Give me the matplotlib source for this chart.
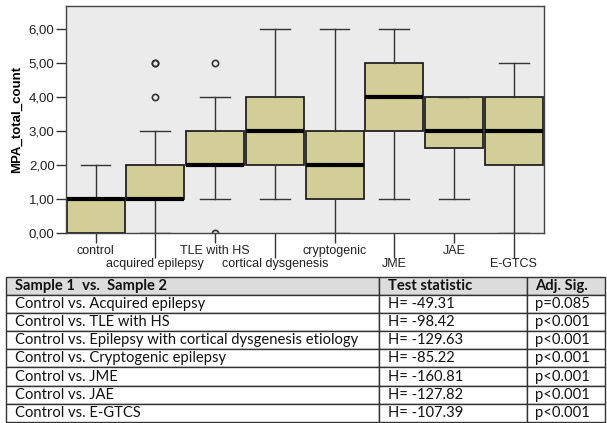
import matplotlib
matplotlib.use("Agg")
import matplotlib.pyplot as plt

# Box summaries
groups = ["control", "acquired epilepsy", "TLE with HS", "cortical dysgenesis",
          "cryptogenic", "JME", "JAE", "E-GTCS"]
q1 = [0, 1, 2, 2, 1, 3, 2.5, 2]
med = [1, 1, 2, 3, 2, 4, 3, 3]
q3 = [1, 2, 3, 4, 3, 5, 4, 4]
whislo = [0, 0, 1, 1, 0, 1, 1, 0]
whishi = [2, 3, 4, 6, 6, 6, 4, 5]
outliers = [[], [4, 5, 5], [5, 0], [], [], [], [], []]
yticks = [0, 1, 2, 3, 4, 5, 6]
ytick_labels = ["0,00", "1,00", "2,00", "3,00", "4,00", "5,00", "6,00"]

# Pairwise comparison table
header = ["Sample 1  vs.  Sample 2", "Test statistic", "Adj. Sig."]
comparisons = ["Control vs. Acquired epilepsy", "Control vs. TLE with HS",
               "Control vs. Epilepsy with cortical dysgenesis etiology",
               "Control vs. Cryptogenic epilepsy", "Control vs. JME",
               "Control vs. JAE", "Control vs. E-GTCS"]
h_stats = ["H= -49.31", "H= -98.42", "H= -129.63", "H= -85.22",
           "H= -160.81", "H= -127.82", "H= -107.39"]
p_values = ["p=0.085", "p<0.001", "p<0.001", "p<0.001",
            "p<0.001", "p<0.001", "p<0.001"]

plt.rcParams["font.family"] = ["Liberation Sans", "DejaVu Sans"]

fig = plt.figure(figsize=(6.07, 4.23), dpi=100)
ax = fig.add_axes([0.1082, 0.4499, 0.7875, 0.5366])
ax.set_facecolor("#EBEBEB")

stats = []
for i, g in enumerate(groups):
    stats.append(dict(label=g, q1=q1[i], med=med[i], q3=q3[i],
                      whislo=whislo[i], whishi=whishi[i], fliers=outliers[i]))

ax.bxp(stats, positions=range(len(groups)), widths=0.97, capwidths=0.5,
       patch_artist=True,
       boxprops=dict(facecolor="#D3CE98", edgecolor="#222222", linewidth=1.3),
       medianprops=dict(color="black", linewidth=3),
       whiskerprops=dict(color="#333333", linewidth=1),
       capprops=dict(color="#333333", linewidth=1),
       flierprops=dict(marker="o", markersize=4.5, markerfacecolor="none",
                       markeredgecolor="#333333", markeredgewidth=1.2))

ax.set_xlim(-0.5, len(groups) - 0.5)
ax.set_ylim(0, 6.69)
ax.set_yticks(yticks)
ax.set_yticklabels(ytick_labels)
ax.set_ylabel("MPA_total_count", fontsize=9.5, fontweight="bold", labelpad=4)

# SPSS staggers category labels on two rows
ax.set_xticks(range(0, len(groups), 2))
ax.set_xticklabels(groups[0::2])
ax.set_xticks(range(1, len(groups), 2), minor=True)
ax.set_xticklabels(groups[1::2], minor=True)
ax.tick_params(axis="x", which="major", length=7.2, width=1, color="#333333",
               labelsize=9, pad=1.5, colors="#222222")
ax.tick_params(axis="x", which="minor", length=18, width=1, color="#333333",
               labelsize=9, pad=0.5, colors="#222222")
ax.tick_params(axis="y", length=7, width=1, color="#333333", labelsize=9.5,
               pad=1, colors="#222222")
for s in ax.spines.values():
    s.set_color("#444444")
    s.set_linewidth(1)

# table
tax = fig.add_axes([6 / 607, 0.003, 599 / 607, 0.342])
tax.axis("off")
rows = [[comparisons[i], h_stats[i], p_values[i]] for i in range(len(comparisons))]
col_w = [373, 147.5, 78.5]
tab = tax.table(cellText=rows, colLabels=header, colWidths=[w / sum(col_w) for w in col_w],
                cellLoc="left", colLoc="left", bbox=[0, 0, 1, 1])
tab.auto_set_font_size(False)
for (r, c), cell in tab.get_celld().items():
    cell.set_edgecolor("#333333")
    cell.set_linewidth(1)
    cell.PAD = 9 / col_w[c]
    txt = cell.get_text()
    txt.set_fontfamily(["Lato", "DejaVu Sans"])
    txt.set_fontsize(10.6)
    txt.set_color("#111111")
    if r == 0:
        cell.set_facecolor("#DCDCDC")
        txt.set_fontweight("bold")

fig.savefig("out.png", dpi=100)
